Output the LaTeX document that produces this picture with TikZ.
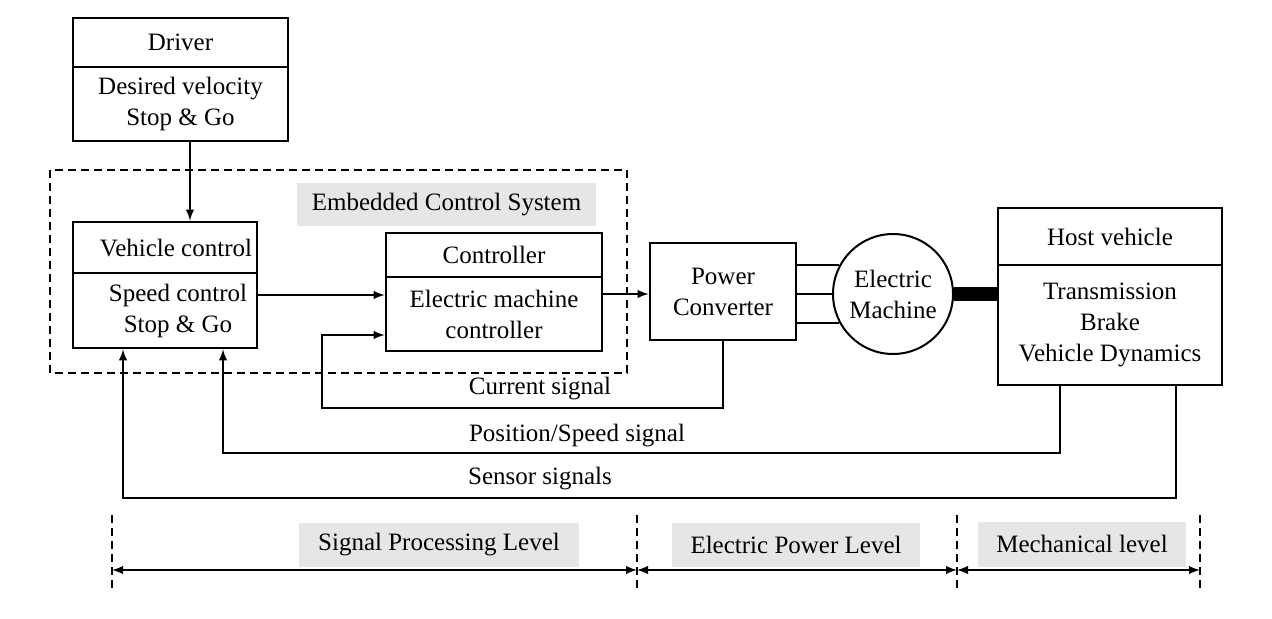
\documentclass[tikz,border=0pt]{standalone}
\usepackage{fontspec}
\setmainfont{Liberation Serif}
\usepackage{xcolor}
\usepackage{tikz}
\usetikzlibrary{shapes.geometric, arrows, positioning, calc}
\definecolor{lvlgray}{RGB}{230,230,230}

\begin{document}
\begin{tikzpicture}[
    x=0.5pt, y=-0.5pt,
    font=\fontsize{12.5}{15.5}\selectfont,
    box/.style={rectangle, draw, line width=1.4pt, align=center, inner sep=0pt},
    txt/.style={align=center, inner sep=0pt},
    machine/.style={circle, draw, line width=1pt, align=center, minimum size=60pt, inner sep=0pt},
    graylabel/.style={rectangle, fill=lvlgray, inner sep=0pt},
    arrow/.style={->, >=latex, line width=0.9pt},
    levarrow/.style={<->, >=latex, line width=0.9pt},
    wire/.style={line width=0.9pt},
    shaft/.style={line width=7pt},
    dashline/.style={line width=0.9pt, dash pattern=on 4pt off 2.5pt}
]
\useasboundingbox (0,0) rectangle (1272,619);

% Embedded control system frame
\draw[dashline] (50,170) rectangle (627,373);
\node[graylabel, minimum width=149.5pt, minimum height=21.5pt] (ecs) at (446.5,204.5) {Embedded Control System};

% Driver
\node[box, minimum width=107.5pt, minimum height=24.5pt] (drvhead) at (180.5,42.5) {Driver};
\node[box, minimum width=107.5pt, minimum height=37pt] (drvbody) at (180.5,104) {Desired velocity\\Stop \& Go};

% Vehicle control
\node[box, minimum width=92pt, minimum height=25.5pt] (vehhead) at (165,247.5) {};
\node[box, minimum width=92pt, minimum height=37.5pt] (vehbody) at (165,310.5) {};
\node[txt] (vehheadtxt) at (176,248) {Vehicle control};
\node[txt] (vehbodytxt) at (178,311) {Speed control\\Stop \& Go};

% Controller
\node[box, minimum width=108pt, minimum height=22pt] (ctrlhead) at (494,255) {Controller};
\node[box, minimum width=108pt, minimum height=37pt] (ctrlbody) at (494,314) {Electric machine\\controller};

% Power converter and machine
\node[box, minimum width=73pt, minimum height=48.5pt] (pc) at (723,291.5) {Power\\Converter};
\node[machine] (em) at (893,294) {Electric\\Machine};

% Host vehicle
\node[box, minimum width=112pt, minimum height=28.5pt] (hosthead) at (1110,236.5) {Host vehicle};
\node[box, minimum width=112pt, minimum height=60pt] (hostbody) at (1110,325) {Transmission\\Brake\\Vehicle Dynamics};

% Forward arrows
\draw[arrow] ([xshift=4.75pt]drvbody.south) -- ([xshift=12.5pt]vehhead.north);
\draw[arrow] ([yshift=7.75pt]vehbody.east) -- ([yshift=7.75pt]vehbody.east -| ctrlbody.west);
\draw[arrow] ([yshift=10pt]ctrlbody.east) -- ([yshift=10pt]ctrlbody.east -| pc.west);

% Three phase wires and shaft
\draw[wire] (pc.east |- em.152) -- (em.152);
\draw[wire] (pc.east |- em.180) -- (em.180);
\draw[wire] (pc.east |- em.208) -- (em.208);
\draw[shaft] (em.east) -- (em.east -| hostbody.west);

% Feedback signals
\coordinate (cur) at (322,408);
\coordinate (pos) at (223,453);
\coordinate (sen) at (123,498);
\draw[arrow] (pc.south) |- (cur) |- ([yshift=-10.5pt]ctrlbody.west);
\draw[arrow] ([xshift=-25pt]hostbody.south) |- (pos) -- ([xshift=29pt]vehbody.south);
\draw[arrow] ([xshift=33pt]hostbody.south) |- (sen) -- ([xshift=-21pt]vehbody.south);
\node (curlbl) at (540,389) {Current signal};
\node (poslbl) at (577,436) {Position/Speed signal};
\node (senlbl) at (540,479) {Sensor signals};

% Levels
\coordinate (l0) at (112,570);
\coordinate (l1) at (637,570);
\coordinate (l2) at (957,570);
\coordinate (l3) at (1200,570);
\foreach \c in {l0,l1,l2,l3}
    \draw[dashline] ([yshift=27.5pt]\c) -- ([yshift=-11pt]\c);
\draw[levarrow] (l0) -- (l1);
\draw[levarrow] (l1) -- (l2);
\draw[levarrow] (l2) -- (l3);
\node[graylabel, minimum width=140pt, minimum height=22pt] (splbl) at (439,544.5) {Signal Processing Level};
\node[graylabel, minimum width=124pt, minimum height=22pt] (eplbl) at (796,545) {Electric Power Level};
\node[graylabel, minimum width=104pt, minimum height=22.5pt] (mllbl) at (1082,544) {Mechanical level};

\end{tikzpicture}
\end{document}
